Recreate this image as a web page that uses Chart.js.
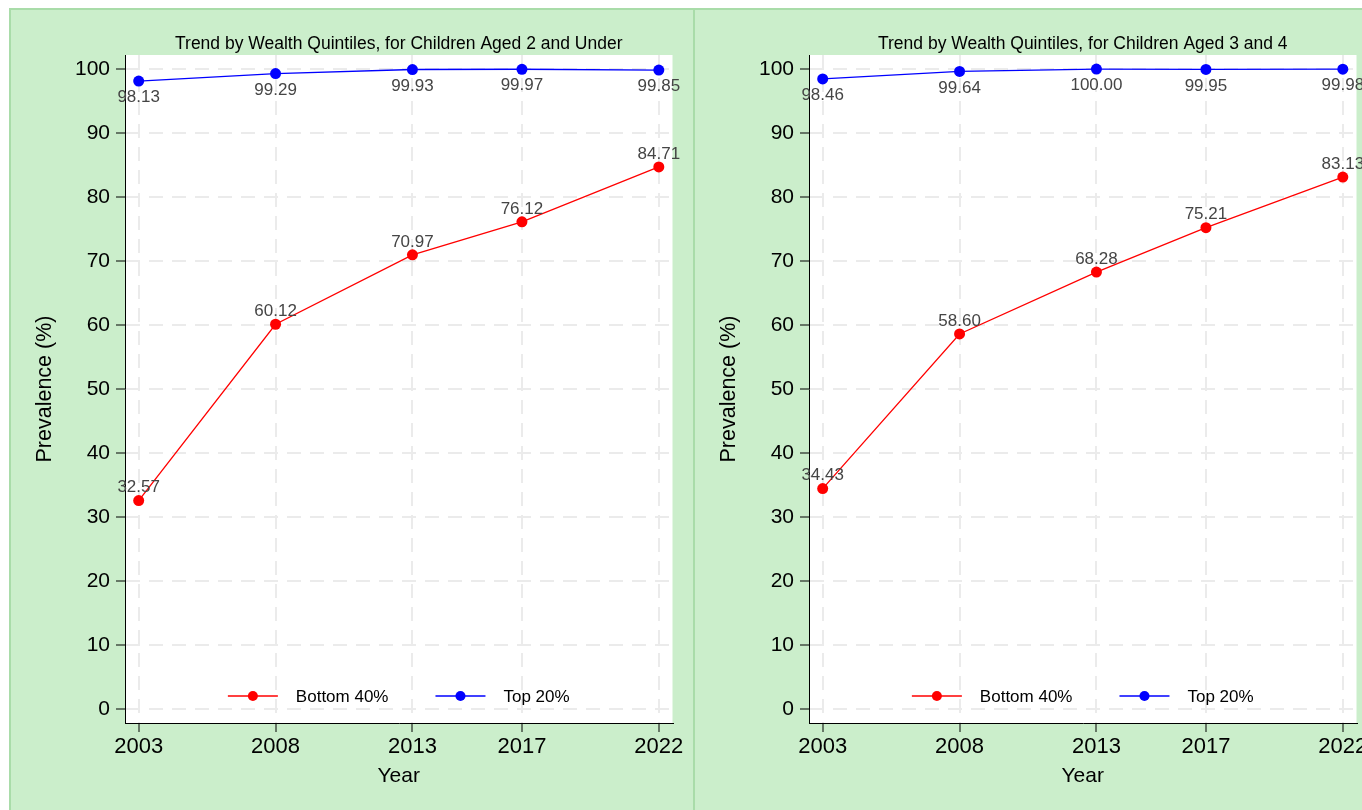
<!DOCTYPE html>
<html><head><meta charset="utf-8">
<script src="https://cdn.jsdelivr.net/npm/chart.js@4.4.1/dist/chart.umd.min.js"></script>
<style>
html,body{margin:0;padding:0;background:#fff;overflow:hidden;width:1362px;height:810px;}
.panel{position:absolute;top:8px;width:685px;height:802px;}
#p1{left:9px}
#p2{left:693px}
canvas{display:block}
</style></head><body>
<div class="panel" id="p1"><canvas id="c1" width="685" height="802"></canvas></div>
<div class="panel" id="p2"><canvas id="c2" width="685" height="802"></canvas></div>
<script>
const years = [2003, 2008, 2013, 2017, 2022];
const yTicks = [0, 10, 20, 30, 40, 50, 60, 70, 80, 90, 100];
const seriesNames = ['Bottom 40%', 'Top 20%'];
const bottom40Under2 = [32.57, 60.12, 70.97, 76.12, 84.71];
const top20Under2 = [98.13, 99.29, 99.93, 99.97, 99.85];
const bottom40Aged34 = [34.43, 58.60, 68.28, 75.21, 83.13];
const top20Aged34 = [98.46, 99.64, 100.00, 99.95, 99.98];
const panelTitles = ['Trend by Wealth Quintiles, for Children Aged 2 and Under', 'Trend by Wealth Quintiles, for Children Aged 3 and 4'];
const xTitle = 'Year';
const yTitle = 'Prevalence (%)';

const FONT = "'Liberation Sans', Arial, Helvetica, sans-serif";
const GREEN = '#cbeecb';
const GREEN_BORDER = '#a9dca9';

const panelPlugin = {
  id: 'panel',
  beforeDraw(chart) {
    const {ctx, chartArea: a, width, height} = chart;
    ctx.save();
    ctx.fillStyle = GREEN;
    ctx.fillRect(0, 0, width, height);
    ctx.fillStyle = GREEN_BORDER;
    ctx.fillRect(0, 0, width, 2);
    ctx.fillRect(0, 0, 2, height);
    ctx.fillStyle = '#ffffff';
    ctx.fillRect(a.left, a.top, a.right - a.left, a.bottom - a.top);
    ctx.restore();
  },
  afterDraw(chart, args, opts) {
    const {ctx, chartArea: a} = chart;
    ctx.save();
    ctx.fillStyle = '#000';
    ctx.font = '17.5px ' + FONT;
    ctx.textAlign = 'center';
    ctx.textBaseline = 'middle';
    ctx.fillText(opts.title, (a.left + a.right) / 2, 36);
    ctx.font = '17px ' + FONT;
    const lineLen = 50, gapText = 18, gapItem = 47;
    const items = chart.data.datasets.map(d => ({label: d.label, color: d.borderColor, w: ctx.measureText(d.label).width}));
    let total = 0;
    items.forEach((it, i) => { total += lineLen + gapText + it.w + (i < items.length - 1 ? gapItem : 0); });
    let x = (a.left + a.right) / 2 - total / 2;
    const y = a.bottom - 27;
    items.forEach(it => {
      ctx.strokeStyle = it.color;
      ctx.lineWidth = 1.5;
      ctx.beginPath(); ctx.moveTo(x, y); ctx.lineTo(x + lineLen, y); ctx.stroke();
      ctx.fillStyle = it.color;
      ctx.beginPath(); ctx.arc(x + lineLen / 2, y, 5, 0, Math.PI * 2); ctx.fill();
      ctx.fillStyle = '#000';
      ctx.textAlign = 'left';
      ctx.fillText(it.label, x + lineLen + gapText, y + 1);
      x += lineLen + gapText + it.w + gapItem;
    });
    ctx.restore();
  },
  afterDatasetsDraw(chart) {
    const {ctx} = chart;
    ctx.save();
    ctx.font = '17px ' + FONT;
    ctx.fillStyle = '#454545';
    ctx.textAlign = 'center';
    ctx.textBaseline = 'middle';
    chart.data.datasets.forEach((ds, i) => {
      const meta = chart.getDatasetMeta(i);
      meta.data.forEach((pt, j) => {
        const v = ds.data[j].y;
        const dy = ds.labelBelow ? 16.5 : -13;
        ctx.fillText(v.toFixed(2), pt.x, pt.y + dy);
      });
    });
    ctx.restore();
  }
};

function axisCommon() {
  return {
    grid: {color: '#ebebeb', lineWidth: 2, tickColor: '#000', tickLength: 9, tickWidth: 1, tickBorderDash: []},
    border: {display: true, color: '#000', width: 1, dash: [14, 9]}
  };
}

function makeChart(id, title, b40, t20) {
  const c = axisCommon();
  const c2 = axisCommon();
  return new Chart(document.getElementById(id), {
    type: 'line',
    data: {
      datasets: [
        {label: seriesNames[0], data: years.map((yr, i) => ({x: yr, y: b40[i]})), borderColor: '#ff0000', backgroundColor: '#ff0000',
         borderWidth: 1.3, pointRadius: 5.5, pointBorderWidth: 0, pointBackgroundColor: '#ff0000', clip: false, labelBelow: false},
        {label: seriesNames[1], data: years.map((yr, i) => ({x: yr, y: t20[i]})), borderColor: '#0000ff', backgroundColor: '#0000ff',
         borderWidth: 1.3, pointRadius: 5.5, pointBorderWidth: 0, pointBackgroundColor: '#0000ff', clip: false, labelBelow: true}
      ]
    },
    options: {
      responsive: false,
      animation: false,
      events: [],
      layout: {padding: {left: 0, right: 21.5, top: 47, bottom: 0}},
      plugins: {legend: {display: false}, tooltip: {enabled: false}, panel: {title: title}},
      scales: {
        x: {
          type: 'linear', min: 2002.5, max: 2022.5,
          afterBuildTicks: s => { s.ticks = years.map(v => ({value: v})); },
          afterFit: s => { s.height = 87; },
          ticks: {callback: v => String(v), color: '#000', font: {family: FONT, size: 22}, padding: 2, maxRotation: 0, autoSkip: false},
          grid: c.grid, border: c.border,
          title: {display: true, text: xTitle, color: '#000', font: {family: FONT, size: 21}, padding: {top: 0, bottom: 20.7}}
        },
        y: {
          min: -2.2, max: 102.2,
          afterBuildTicks: s => { s.ticks = yTicks.map(v => ({value: v})); },
          afterFit: s => { s.width = 116; },
          ticks: {callback: v => String(v), color: '#000', font: {family: FONT, size: 21}, padding: 6, autoSkip: false},
          grid: c2.grid, border: c2.border,
          title: {display: true, text: yTitle, color: '#000', font: {family: FONT, size: 21.5}, padding: {top: 23.4, bottom: 0}}
        }
      }
    },
    plugins: [panelPlugin]
  });
}

makeChart('c1', panelTitles[0], bottom40Under2, top20Under2);
makeChart('c2', panelTitles[1], bottom40Aged34, top20Aged34);
</script>
</body></html>
